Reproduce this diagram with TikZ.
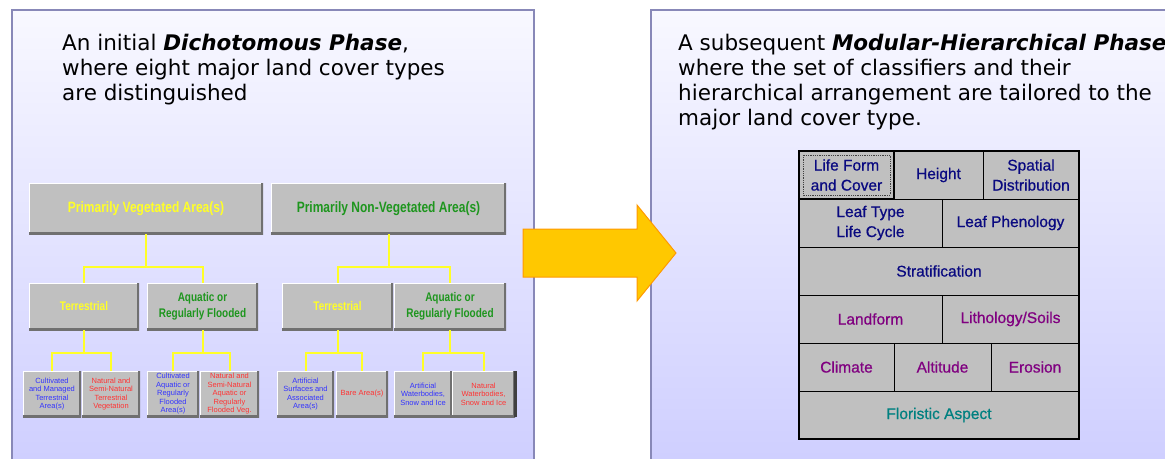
\documentclass[tikz,border=0pt]{standalone}
\usepackage{fontspec}
\setmainfont{DejaVu Sans}
\newfontfamily\boxfont{Liberation Sans}
\newfontfamily\cellfont[FakeBold=0.7]{Liberation Sans}
\newfontfamily\narrowfont[FakeStretch=0.8]{Liberation Sans}
\usepackage{tikz}
\usetikzlibrary{positioning, calc}
\usepackage{xcolor}

\definecolor{panelTop}{RGB}{248,248,255}
\definecolor{panelBot}{RGB}{205,205,255}
\definecolor{panelLine}{RGB}{136,136,184}
\definecolor{boxGray}{RGB}{192,192,192}
\definecolor{boxShade}{RGB}{112,112,112}
\definecolor{vegYellow}{RGB}{255,255,40}
\definecolor{nonvegGreen}{RGB}{30,150,30}
\definecolor{typeBlue}{RGB}{51,51,255}
\definecolor{typeRed}{RGB}{255,51,51}
\definecolor{arrowGold}{RGB}{255,200,0}
\definecolor{arrowEdge}{RGB}{255,153,0}
\definecolor{clsNavy}{RGB}{10,10,128}
\definecolor{clsPurple}{RGB}{128,0,128}
\definecolor{clsTeal}{RGB}{0,128,128}

\begin{document}
\begin{tikzpicture}[
    x=1pt, y=-1pt,
    panel/.style={draw=panelLine, line width=1.5pt, top color=panelTop, bottom color=panelBot},
    intro/.style={anchor=north west, inner sep=0pt, align=left, font=\fontsize{21.5}{25}\selectfont},
    bevel/.style={fill=boxGray, inner sep=0pt, outer sep=0pt, anchor=north west, align=center,
        path picture={
            \draw[white, line width=2pt] (path picture bounding box.south west) |- (path picture bounding box.north east);
            \draw[boxShade, line width=4pt] (path picture bounding box.south west) -| (path picture bounding box.north east);
        }},
    major/.style={bevel, minimum height=51, font=\narrowfont\bfseries\fontsize{15}{18}\selectfont},
    medium/.style={bevel, minimum height=47, font=\narrowfont\bfseries\fontsize{12.5}{16}\selectfont},
    minor/.style={bevel, minimum height=46, font=\boxfont\fontsize{7.5}{8.5}\selectfont},
    link/.style={draw=vegYellow, line width=2pt},
    cell/.style={fill=boxGray, draw=black, line width=0.8pt, minimum height=48, inner sep=0pt, outer sep=0pt,
        anchor=north west, align=center, font=\cellfont\fontsize{15.5}{20}\selectfont,
        path picture={
            \draw[white, line width=2.5pt] (path picture bounding box.south west) |- (path picture bounding box.north east);
        }},
    focus/.style={line width=2.5pt,
        path picture={
            \draw[black!75, densely dotted, line width=0.8pt] ([shift={(4pt,-4pt)}]path picture bounding box.north west) rectangle ([shift={(-4pt,4pt)}]path picture bounding box.south east);
        }}
]
    \useasboundingbox (0,0) rectangle (1165,458);
    \clip (0,0) rectangle (1165,458);
    \fill[white] (0,0) rectangle (1165,458);

    % Panels
    \draw[panel] (12,10) rectangle (534,480);
    \draw[panel] (651,10) rectangle (1200,480);

    \node[intro] (introL) at (62,34) {An initial \textbf{\textit{Dichotomous Phase}},\\where eight major land cover types\\are distinguished};
    \node[intro] (introR) at (678,34) {A subsequent \textbf{\textit{Modular-Hierarchical Phase}}\\where the set of classifiers and their\\hierarchical arrangement are tailored to the\\major land cover type.};

    % Arrow between the phases
    \coordinate (tail) at (523,253);
    \coordinate (tip) at (676,253);
    \fill[arrowGold, draw=arrowEdge, line width=1pt]
        ($(tail)+(0,-24)$) -- ($(tail)+(114,-24)$) -- ($(tail)+(114,-48)$) -- (tip)
        -- ($(tail)+(114,48)$) -- ($(tail)+(114,24)$) -- ($(tail)+(0,24)$) -- cycle;

    % Dichotomous phase
    \node[major, minimum width=234, text=vegYellow] (veg) at (29,183) {Primarily Vegetated Area(s)};
    \node[major, minimum width=235, text=nonvegGreen] (nonveg) at (271,183) {Primarily Non-Vegetated Area(s)};

    \node[medium, minimum width=110, text=vegYellow] (terV) at (29,283) {Terrestrial};
    \node[medium, minimum width=111, text=nonvegGreen] (aqV) at (147,283) {Aquatic or\\Regularly Flooded};
    \node[medium, minimum width=111, text=vegYellow] (terN) at (282,283) {Terrestrial};
    \node[medium, minimum width=112, text=nonvegGreen] (aqN) at (394,283) {Aquatic or\\Regularly Flooded};

    \node[minor, minimum width=58, text=typeBlue] (cultTer) at (23,371) {Cultivated\\and Managed\\Terrestrial\\Area(s)};
    \node[minor, minimum width=58, text=typeRed] (natTer) at (82,371) {Natural and\\Semi-Natural\\Terrestrial\\Vegetation};
    \node[minor, minimum width=52, text=typeBlue] (cultAq) at (147,371) {Cultivated\\Aquatic or\\Regularly\\Flooded\\Area(s)};
    \node[minor, minimum width=59, text=typeRed] (natAq) at (200,371) {Natural and\\Semi-Natural\\Aquatic or\\Regularly\\Flooded Veg.};
    \node[minor, minimum width=57, text=typeBlue] (artSurf) at (277,371) {Artificial\\Surfaces and\\Associated\\Area(s)};
    \node[minor, minimum width=52, text=typeRed] (bare) at (336,371) {Bare Area(s)};
    \node[minor, minimum width=58, text=typeBlue] (artWater) at (394,371) {Artificial\\Waterbodies,\\Snow and Ice};
    \node[minor, minimum width=63, text=typeRed] (natWater) at (452,371) {Natural\\Waterbodies,\\Snow and Ice};
    \draw[black!75, line width=3pt] (natWater.north east) -- (natWater.south east);

    % Links
    \coordinate (vegJ) at ($(veg.south)+(0,33)$);
    \coordinate (nonvegJ) at ($(nonveg.south)+(0,33)$);
    \coordinate (terVJ) at ($(terV.south)+(0,23)$);
    \coordinate (aqVJ) at ($(aqV.south)+(0,23)$);
    \coordinate (terNJ) at ($(terN.south)+(0,23)$);
    \coordinate (aqNJ) at ($(aqN.south)+(0,23)$);
    \draw[link] (veg.south) -- (vegJ);
    \draw[link] (terV.north) |- (vegJ) -| (aqV.north);
    \draw[link] (nonveg.south) -- (nonvegJ);
    \draw[link] (terN.north) |- (nonvegJ) -| (aqN.north);
    \draw[link] (terV.south) -- (terVJ);
    \draw[link] (cultTer.north) |- (terVJ) -| (natTer.north);
    \draw[link] (aqV.south) -- (aqVJ);
    \draw[link] (cultAq.north) |- (aqVJ) -| (natAq.north);
    \draw[link] (terN.south) -- (terNJ);
    \draw[link] (artSurf.north) |- (terNJ) -| (bare.north);
    \draw[link] (aqN.south) -- (aqNJ);
    \draw[link] (artWater.north) |- (aqNJ) -| (natWater.north);

    % Modular-hierarchical phase
    \node[cell, focus, minimum width=95, text=clsNavy] (lifeForm) at (799,151) {Life Form\\and Cover};
    \node[cell, minimum width=89, text=clsNavy] (height) at (lifeForm.north east) {Height};
    \node[cell, minimum width=96, text=clsNavy] (spatial) at (height.north east) {Spatial\\Distribution};
    \node[cell, minimum width=143, text=clsNavy] (leafType) at (lifeForm.south west) {Leaf Type\\Life Cycle};
    \node[cell, minimum width=137, text=clsNavy] (phenology) at (leafType.north east) {Leaf Phenology};
    \node[cell, minimum width=280, text=clsNavy] (strat) at (leafType.south west) {Stratification};
    \node[cell, minimum width=143, text=clsPurple] (landform) at (strat.south west) {Landform};
    \node[cell, minimum width=137, text=clsPurple] (lithology) at (landform.north east) {Lithology/Soils};
    \node[cell, minimum width=95, text=clsPurple] (climate) at (landform.south west) {Climate};
    \node[cell, minimum width=97, text=clsPurple] (altitude) at (climate.north east) {Altitude};
    \node[cell, minimum width=88, text=clsPurple] (erosion) at (altitude.north east) {Erosion};
    \node[cell, minimum width=280, text=clsTeal] (floristic) at (climate.south west) {Floristic Aspect};
    \draw[line width=1.5pt] (lifeForm.north west) rectangle (floristic.south east);
\end{tikzpicture}
\end{document}
